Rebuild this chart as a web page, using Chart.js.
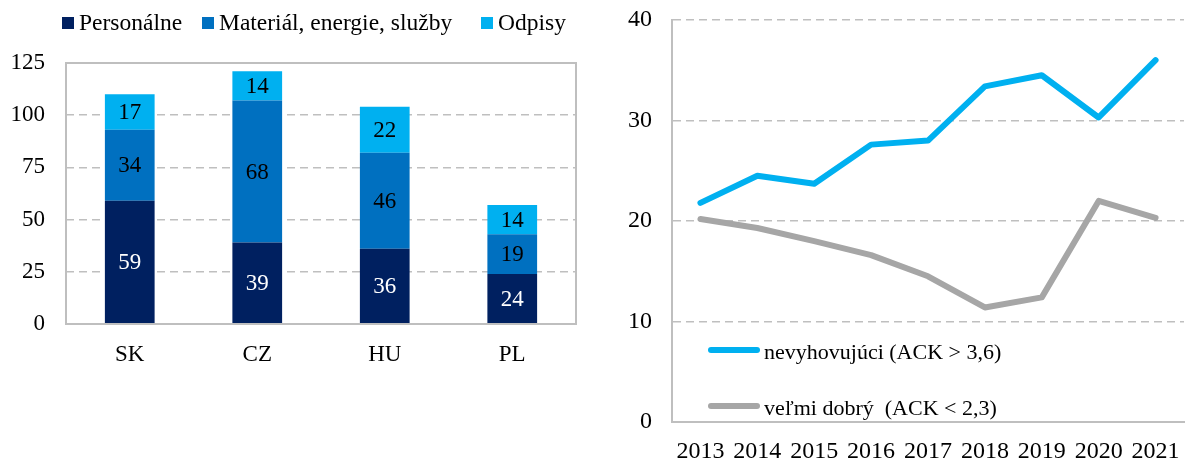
<!DOCTYPE html>
<html>
<head>
<meta charset="utf-8">
<script src="https://cdn.jsdelivr.net/npm/chart.js@4"></script>
<style>
  html, body { margin: 0; padding: 0; background: #fff; }
  body { width: 1185px; height: 461px; position: relative; overflow: hidden;
         font-family: 'Liberation Serif', 'Times New Roman', serif; color: #000; }
  .panel { position: absolute; top: 0; height: 461px; }
  #leftPanel { left: 0; width: 600px; }
  #rightPanel { left: 600px; width: 585px; }
  .leg { position: absolute; font-size: 23.5px; line-height: 26px; white-space: nowrap; }
  .leg .box { display: inline-block; width: 12px; height: 12px; margin-right: 5px; vertical-align: 1px; }
  .lineLeg { position: absolute; font-size: 22px; line-height: 24px; white-space: nowrap; }
  .lineLeg .ln { display: inline-block; width: 52px; height: 6px; border-radius: 3px;
                 margin-right: 4px; vertical-align: 6px; }
</style>
</head>
<body>
  <div class="panel" id="leftPanel">
    <canvas id="costChart" width="600" height="461"></canvas>
    <div class="leg" style="left:62px; top:9px;"><span class="box" style="background:#002060"></span>Personálne</div>
    <div class="leg" style="left:202px; top:9px;"><span class="box" style="background:#0070C0"></span>Materiál, energie, služby</div>
    <div class="leg" style="left:481px; top:9px;"><span class="box" style="background:#00B0F0"></span>Odpisy</div>
  </div>
  <div class="panel" id="rightPanel">
    <canvas id="ackChart" width="585" height="461"></canvas>
    <div class="lineLeg" style="left:108px; top:340px;"><span class="ln" style="background:#00B0F0"></span>nevyhovujúci (ACK &gt; 3,6)</div>
    <div class="lineLeg" style="left:108px; top:396px;"><span class="ln" style="background:#A6A6A6"></span>veľmi dobrý&nbsp; (ACK &lt; 2,3)</div>
  </div>

<script>
// ======================================
// Data
// ======================================
const countries = ['SK', 'CZ', 'HU', 'PL'];
const personalne = [59, 39, 36, 24];
const material = [34, 68, 46, 19];
const odpisy = [17, 14, 22, 14];

const years = ['2013', '2014', '2015', '2016', '2017', '2018', '2019', '2020', '2021'];
const nevyhovujuci = [21.8, 24.5, 23.7, 27.6, 28.0, 33.4, 34.5, 30.3, 36.0];
const velmiDobry = [20.2, 19.3, 18.0, 16.6, 14.5, 11.4, 12.4, 22.0, 20.3];

// ======================================
// Shared styling
// ======================================
const FONT = "'Liberation Serif', 'Times New Roman', serif";
const GRID = '#BFBFBF';
Chart.defaults.font.family = FONT;
Chart.defaults.font.size = 23;
Chart.defaults.color = '#000';

// keep the plot area where layout.padding puts it (no room for label overhang)
function noOverhang(s) {
  s.paddingTop = 0;
  s.paddingBottom = 0;
  s.paddingLeft = 0;
  s.paddingRight = 0;
}

// value labels in the middle of each stacked segment
const segmentLabels = {
  id: 'segmentLabels',
  afterDatasetsDraw(chart) {
    const ctx = chart.ctx;
    ctx.save();
    ctx.font = '23px ' + FONT;
    ctx.textAlign = 'center';
    ctx.textBaseline = 'middle';
    chart.data.datasets.forEach((ds, i) => {
      const meta = chart.getDatasetMeta(i);
      meta.data.forEach((bar, j) => {
        const p = bar.getProps(['x', 'y', 'base'], true);
        ctx.fillStyle = i === 0 ? '#fff' : '#000';
        ctx.fillText(ds.data[j], p.x, (p.y + p.base) / 2 + 1);
      });
    });
    ctx.restore();
  }
};

// solid box around the plot area
const plotBox = {
  id: 'plotBox',
  afterDraw(chart) {
    const a = chart.chartArea;
    const ctx = chart.ctx;
    ctx.save();
    ctx.strokeStyle = GRID;
    ctx.lineWidth = 2;
    ctx.strokeRect(a.left, a.top, a.right - a.left, a.bottom - a.top);
    ctx.restore();
  }
};

// ======================================
// Left: stacked bars
// ======================================
new Chart(document.getElementById('costChart'), {
  type: 'bar',
  data: {
    labels: countries,
    datasets: [
      { label: 'Personálne', data: personalne, backgroundColor: '#002060' },
      { label: 'Materiál, energie, služby', data: material, backgroundColor: '#0070C0' },
      { label: 'Odpisy', data: odpisy, backgroundColor: '#00B0F0' }
    ]
  },
  options: {
    responsive: false,
    animation: false,
    layout: { padding: { top: 63, right: 24, bottom: 0, left: 0 } },
    datasets: { bar: { categoryPercentage: 1, barPercentage: 0.39 } },
    plugins: { legend: { display: false }, tooltip: { enabled: false } },
    scales: {
      x: {
        stacked: true,
        grid: { display: false, drawTicks: false },
        border: { display: false },
        ticks: { padding: 17 },
        afterFit(s) { noOverhang(s); s.height = 137; }
      },
      y: {
        stacked: true,
        min: 0, max: 125,
        ticks: { stepSize: 25, padding: 21 },
        grid: { color: GRID, lineWidth: 1.5, drawTicks: false },
        border: { display: false, dash: [8, 5] },
        afterFit(s) { noOverhang(s); s.width = 66; }
      }
    }
  },
  plugins: [segmentLabels, plotBox]
});

// ======================================
// Right: lines
// ======================================
new Chart(document.getElementById('ackChart'), {
  type: 'line',
  data: {
    labels: years,
    datasets: [
      { label: 'nevyhovujúci (ACK > 3,6)', data: nevyhovujuci, borderColor: '#00B0F0' },
      { label: 'veľmi dobrý  (ACK < 2,3)', data: velmiDobry, borderColor: '#A6A6A6' }
    ]
  },
  options: {
    responsive: false,
    animation: false,
    layout: { padding: { top: 20, right: 1, bottom: 0, left: 0 } },
    elements: {
      line: { borderWidth: 6, tension: 0, borderCapStyle: 'round', borderJoinStyle: 'round' },
      point: { radius: 0 }
    },
    plugins: { legend: { display: false }, tooltip: { enabled: false } },
    scales: {
      x: {
        offset: true,
        grid: { display: false, drawTicks: false },
        border: { display: true, color: GRID, width: 2 },
        ticks: { padding: 15, maxRotation: 0, autoSkip: false, font: { size: 24 } },
        afterFit(s) { noOverhang(s); s.height = 39; }
      },
      y: {
        min: 0, max: 40,
        ticks: { stepSize: 10, padding: 20, font: { size: 24 } },
        grid: { color: GRID, lineWidth: 1.5, drawTicks: false },
        border: { display: true, color: GRID, width: 2, dash: [8, 5] },
        afterFit(s) { noOverhang(s); s.width = 72; }
      }
    }
  }
});
</script>
</body>
</html>
